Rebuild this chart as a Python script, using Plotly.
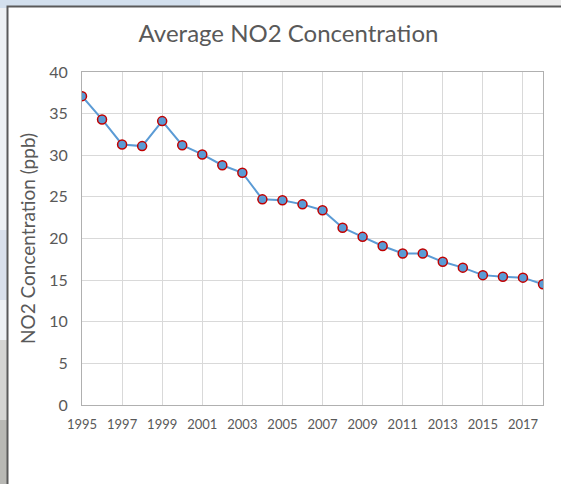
import plotly.graph_objects as go

# ── data ────────────────────────────────────────────────────────
years = list(range(1995, 2019))
no2_ppb = [37.1, 34.3, 31.3, 31.1, 34.1, 31.2, 30.1, 28.8, 27.9, 24.7,
           24.6, 24.1, 23.4, 21.3, 20.2, 19.1, 18.2, 18.2, 17.2, 16.5,
           15.6, 15.4, 15.3, 14.5]
x_ticks = list(range(1995, 2018, 2))

W, H = 561, 484
L, R, T, B = 82, 18, 72, 79
FONT = "Lato"
GREY = "#595959"


def px_x(p):  # pixel -> paper x
    return (p - L) / (W - L - R)


def px_y(p):  # pixel -> paper y
    return (H - B - p) / (H - T - B)


def strip(x0, x1, y0, y1, color):
    return dict(type="rect", xref="paper", yref="paper", layer="below",
                x0=px_x(x0), x1=px_x(x1), y0=px_y(y1), y1=px_y(y0),
                fillcolor=color, line_width=0)


fig = go.Figure()
fig.add_trace(go.Scatter(
    x=years, y=no2_ppb, mode="lines+markers",
    line=dict(color="#5b9bd5", width=2),
    marker=dict(size=9, color="#5b9bd5", line=dict(color="#c00000", width=1.5)),
    showlegend=False,
))

# ── backdrop: blurry photo strips and the white chart frame ─────
shapes = [
    strip(-5, W + 5, -5, H + 5, "#eef1f4"),
    strip(-5, 200, -5, 8, "#d3e0ee"),
    strip(200, 280, -5, 8, "#f2f5f8"),
    strip(280, W + 5, -5, 8, "#ebebeb"),
    strip(-5, 8, 230, 300, "#d9e0ec"),
    strip(-5, 8, 340, 420, "#d4d4d2"),
    strip(-5, 8, 420, H + 5, "#b8b8b4"),
    strip(6.5, W + 10, 5.5, H + 10, "#5a5a5a"),   # frame border
    strip(8.5, W + 10, 7.5, H + 10, "white"),
]

fig.update_layout(
    width=W, height=H,
    margin=dict(l=L, r=R, t=T, b=B),
    paper_bgcolor="#eef1f4",
    plot_bgcolor="white",
    shapes=shapes,
    font=dict(family=FONT, color=GREY),
    title=dict(text="Average NO2 Concentration", x=288.5 / W, xref="container",
               xanchor="center", y=1 - 34 / H, yref="container", yanchor="middle",
               font=dict(family=FONT, size=24, color=GREY)),
    xaxis=dict(
        range=[1995, 2018], tickmode="array", tickvals=x_ticks,
        ticktext=[str(v) for v in x_ticks],
        showgrid=True, gridcolor="#d9d9d9", gridwidth=1,
        showline=True, linecolor="#b0b0b0", linewidth=1, mirror=True,
        ticks="outside", ticklen=7, tickcolor="rgba(0,0,0,0)",
        tickfont=dict(size=13, color=GREY), zeroline=False,
    ),
    yaxis=dict(
        range=[0, 40], dtick=5,
        showgrid=True, gridcolor="#d9d9d9", gridwidth=1,
        showline=True, linecolor="#b0b0b0", linewidth=1, mirror=True,
        ticks="outside", ticklen=10, tickcolor="rgba(0,0,0,0)",
        tickfont=dict(size=16, color=GREY), zeroline=False,
        title=dict(text="NO2 Concentration (ppb)", standoff=8,
                   font=dict(size=19, color=GREY)),
    ),
)

fig.write_html(
    "out.html",
    config={"displayModeBar": False},
    post_script="document.body.style.margin='0';",
)
